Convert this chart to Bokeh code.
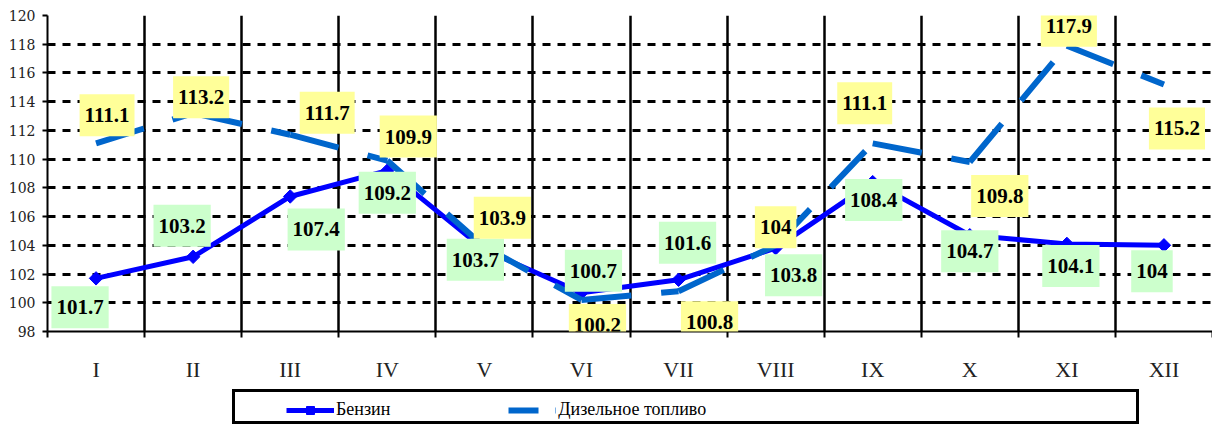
import math
from bokeh.plotting import figure
from bokeh.layouts import column
from bokeh.models import Range1d, FixedTicker, Label, Legend, LegendItem
from bokeh.embed import file_html
from bokeh.resources import INLINE

# ---- data ----
months = ["I", "II", "III", "IV", "V", "VI", "VII", "VIII", "IX", "X", "XI", "XII"]
benzin = [101.7, 103.2, 107.4, 109.2, 103.7, 100.7, 101.6, 103.8, 108.4, 104.7, 104.1, 104.0]
diesel = [111.1, 113.2, 111.7, 109.9, 103.9, 100.2, 100.8, 104.0, 111.1, 109.8, 117.9, 115.2]
y_ticks = [98, 100, 102, 104, 106, 108, 110, 112, 114, 116, 118, 120]
series_names = ["Бензин", "Дизельное топливо"]

# ---- label placement (screen px offsets from the point; x right, y up) ----
benzin_dx = [-16, -11, 26, 0, -9, 12, 9, 18, 1, 0, 4, -12]
benzin_dy = [-29, 31, -33, -22, -10, 22, 37, -27, -18, -16, -22, -26]
diesel_dx = [11, 8, 37, 21, 18, 16, 31, 0, -8, 30, 2, 13]
diesel_dy = [28, 16, 22, 24, 29, -25, -31, 18, 40, -34, 20, -44]

BENZIN_COLOR = "#0000FF"
DIESEL_COLOR = "#0066CC"

x = list(range(1, len(months) + 1))
bounds = [i + 0.5 for i in range(0, len(months) + 1)]

p = figure(width=1212, height=384,
           x_range=Range1d(0.5, len(months) + 0.5), y_range=Range1d(y_ticks[0], y_ticks[-1]),
           output_backend="svg", toolbar_location=None,
           min_border_left=47, min_border_right=0, min_border_top=15, min_border_bottom=46)
p.outline_line_color = None
p.background_fill_color = "white"

# x axis
xa = p.xaxis[0]
xa.ticker = FixedTicker(ticks=x, minor_ticks=bounds)
xa.major_label_overrides = {i: m for i, m in zip(x, months)}
xa.major_tick_line_color = None
xa.major_tick_out = 0
xa.major_tick_in = 0
xa.minor_tick_line_color = "black"
xa.minor_tick_line_width = 2
xa.minor_tick_out = 6
xa.minor_tick_in = 0
xa.axis_line_color = "black"
xa.axis_line_width = 2
xa.major_label_standoff = 19
xa.major_label_text_font = "Liberation Serif"
xa.major_label_text_font_size = "22px"
xa.major_label_text_color = "#222222"

# y axis
ya = p.yaxis[0]
ya.ticker = FixedTicker(ticks=y_ticks)
ya.major_tick_out = 5
ya.major_tick_in = 0
ya.major_tick_line_width = 2
ya.major_tick_line_color = "black"
ya.minor_tick_line_color = None
ya.axis_line_color = "black"
ya.axis_line_width = 2
ya.major_label_standoff = 7
ya.major_label_text_font = "DejaVu Serif"
ya.major_label_text_font_size = "14px"
ya.major_label_text_color = "#222222"

# grids
p.xgrid.ticker = FixedTicker(ticks=bounds)
p.xgrid.grid_line_color = "black"
p.xgrid.grid_line_width = 2.5
p.ygrid.ticker = FixedTicker(ticks=y_ticks)
p.ygrid.grid_line_color = "black"
p.ygrid.grid_line_width = 3
p.ygrid.grid_line_dash = "8 7"

# series
benzin_line = dict(line_color=BENZIN_COLOR, line_width=5, line_join="round")
benzin_mark = dict(marker="square", angle=math.pi / 4, size=9.5,
                   fill_color=BENZIN_COLOR, line_color=BENZIN_COLOR)
diesel_line = dict(line_color=DIESEL_COLOR, line_width=6, line_dash="50 30", line_cap="butt")

p.line(x, benzin, **benzin_line)
p.scatter(x, benzin, **benzin_mark)
xs = [[x[i], x[i + 1]] for i in range(len(x) - 1)]
ys = [[diesel[i], diesel[i + 1]] for i in range(len(x) - 1)]
p.multi_line(xs, ys, **diesel_line)

# data labels
def add_labels(vals, dxs, dys, fill):
    for xi, v, dx, dy in zip(x, vals, dxs, dys):
        p.add_layout(Label(x=xi, y=v, x_offset=dx, y_offset=dy, text=f"{v:g}",
                           text_align="center", text_baseline="middle",
                           text_font="Liberation Serif", text_font_style="bold",
                           text_font_size="21px", text_color="black",
                           background_fill_color=fill, padding=(5, 14)))

add_labels(benzin, benzin_dx, benzin_dy, "#CCFFCC")
add_labels(diesel, diesel_dx, diesel_dy, "#FFFF99")

# ---- legend strip (its frame is aligned with the chart frame by the column) ----
pl = figure(width=1212, height=42, x_range=Range1d(0, 1), y_range=Range1d(0, 1),
            x_axis_location=None, y_axis_location=None,
            output_backend="svg", toolbar_location=None, min_border=0)
pl.outline_line_color = None
pl.grid.visible = False

nan = [math.nan]
lb = pl.line(nan, nan, **benzin_line)
lbm = pl.scatter(nan, nan, **benzin_mark)
legend_diesel = dict(diesel_line, line_dash="30 17")
ld = pl.multi_line([nan], [nan], **legend_diesel)
ldummy = pl.line(nan, nan, line_alpha=0)

leg_box = Legend(items=[LegendItem(label=" ", renderers=[ldummy])],
                 location=(185, 2), orientation="horizontal",
                 glyph_width=0, glyph_height=21, label_height=21, label_width=893,
                 label_standoff=0, padding=4, spacing=0, margin=0,
                 border_line_color="black", border_line_width=3, border_line_alpha=1.0,
                 background_fill_color="white", background_fill_alpha=1.0,
                 label_text_alpha=0)
pl.add_layout(leg_box, "center")

leg = Legend(items=[LegendItem(label=series_names[0], renderers=[lb, lbm]),
                    LegendItem(label=series_names[1], renderers=[ld])],
             location=(239, 6), orientation="horizontal",
             glyph_width=48, glyph_height=20, label_height=20, label_standoff=2,
             spacing=118, padding=0, margin=0,
             border_line_alpha=0, background_fill_alpha=0,
             label_text_font="Liberation Serif", label_text_font_size="18px",
             label_text_color="black")
pl.add_layout(leg, "center")

layout = column(p, pl, spacing=0)
open("out.html", "w").write(file_html(layout, INLINE))
